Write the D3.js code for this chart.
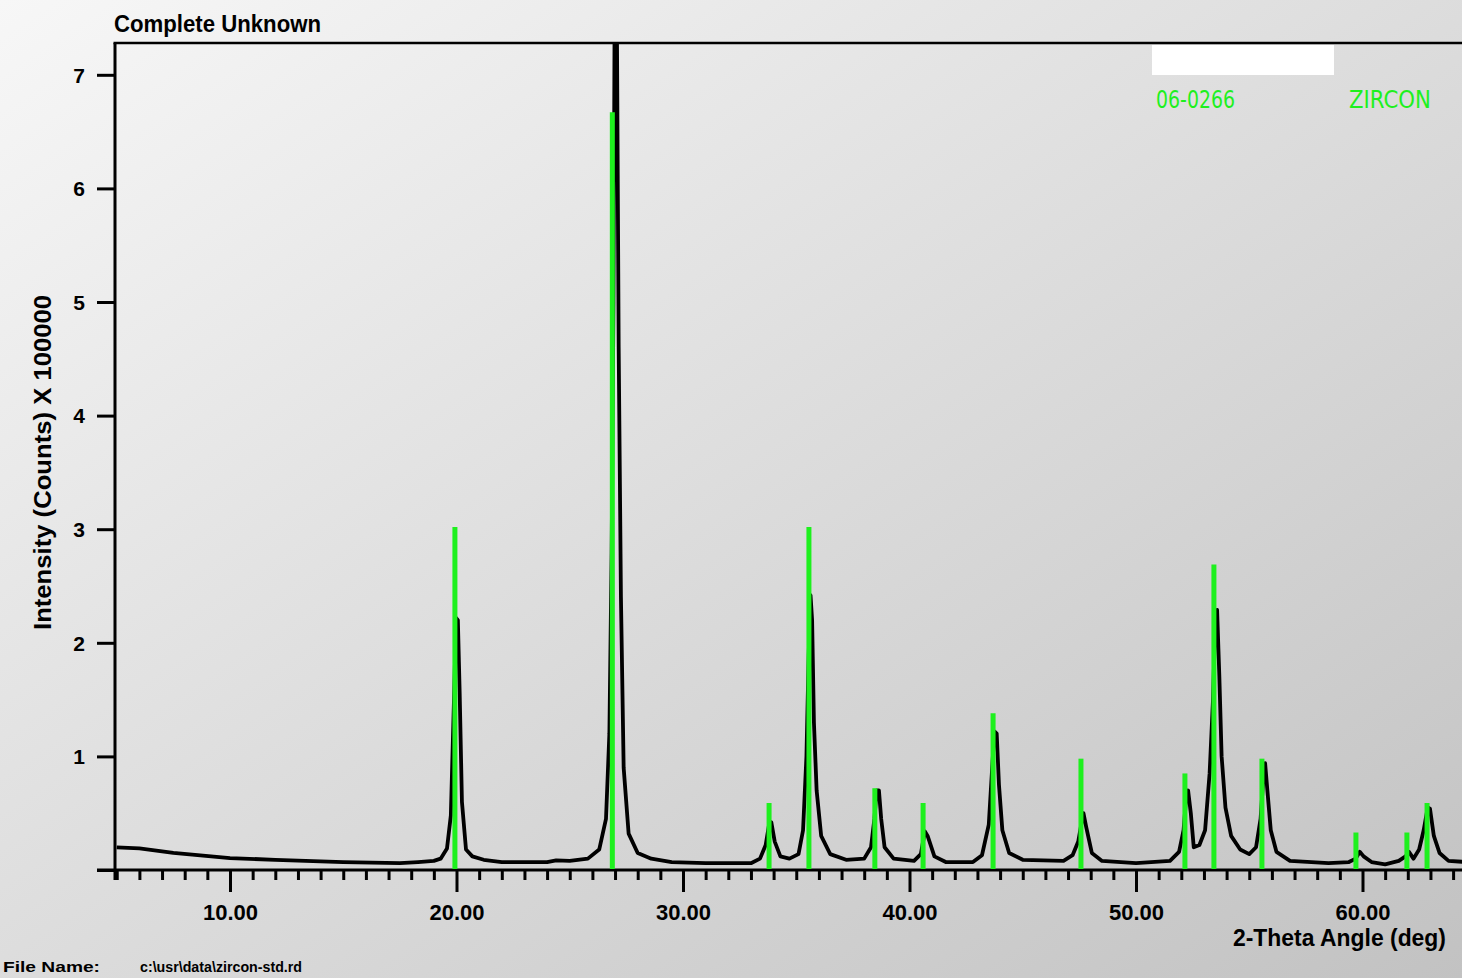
<!DOCTYPE html>
<html>
<head>
<meta charset="utf-8">
<script src="https://cdn.jsdelivr.net/npm/d3@7"></script>
<style>
    body { margin: 0; overflow: hidden; }
    .bold { font-family: "Liberation Sans", Arial, sans-serif; font-weight: bold; fill: #000; }
    .ref { font-family: "Liberation Sans Narrow", "DejaVu Sans Condensed", sans-serif; font-stretch: condensed; fill: #1ef01e; }
</style>
</head>
<body>
<script>
//anonymous function to wrap script
(function(){

    //pseudo-global variables
    var chartTitle = "Complete Unknown";
    var xTitle = "2-Theta Angle (deg)";
    var yTitle = "Intensity (Counts) X 100000";
    var fileLabel = "File Name:";
    var fileName = "c:\\usr\\data\\zircon-std.rd";
    var refCode = "06-0266", refName = "ZIRCON";

    var yTickValues = [0, 1, 2, 3, 4, 5, 6, 7];
    var xMajorTicks = [10, 20, 30, 40, 50, 60];
    var xTickLabels = ["10.00", "20.00", "30.00", "40.00", "50.00", "60.00"];

    //measured pattern (2-theta, counts / 100000)
    var profileAngle = [5.0, 6.0, 7.5, 10, 12, 15, 17.5, 18.3, 19.0, 19.3, 19.58, 19.75, 19.9, 19.98, 20.06, 20.14, 20.24, 20.42, 20.7, 21.2, 22,
        24, 24.4, 25, 25.8, 26.3, 26.6, 26.75, 26.85, 26.93, 26.98, 27.08, 27.16, 27.26, 27.38, 27.6, 28, 28.6, 29.5, 31, 33,
        33.4, 33.65, 33.8, 33.9, 34.05, 34.3, 34.7, 35.1, 35.3, 35.45, 35.55, 35.63, 35.7, 35.78, 35.9, 36.1, 36.5, 37.2, 38, 38.3,
        38.45, 38.55, 38.65, 38.75, 38.9, 39.3, 40.2, 40.5, 40.68, 40.8, 41.1, 41.6, 42.8, 43.2, 43.5, 43.65, 43.75, 43.85, 43.95, 44.1,
        44.4, 45, 46.8, 47.2, 47.45, 47.6, 47.68, 47.8, 48.05, 48.5, 50, 51.5, 51.9, 52.1, 52.22, 52.3, 52.42, 52.55, 52.8, 53.05,
        53.25, 53.4, 53.5, 53.58, 53.68, 53.78, 53.95, 54.2, 54.6, 55, 55.3, 55.5, 55.62, 55.7, 55.8, 55.95, 56.2, 56.8, 58.5, 59.4,
        59.7, 59.88, 60.05, 60.4, 61, 61.6, 61.9, 62.05, 62.25, 62.5, 62.7, 62.88, 62.98, 63.15, 63.4, 63.8, 64.6];
    var profileCounts = [0.20, 0.19, 0.15, 0.105, 0.09, 0.07, 0.06, 0.07, 0.08, 0.1, 0.19, 0.48, 1.58, 2.22, 2.2, 1.56, 0.6, 0.18, 0.12, 0.09, 0.07,
        0.07, 0.085, 0.08, 0.1, 0.18, 0.45, 1.2, 2.8, 5.0, 7.5, 7.5, 4.6, 2.4, 0.9, 0.32, 0.15, 0.1, 0.07, 0.06, 0.06,
        0.1, 0.22, 0.4, 0.42, 0.25, 0.12, 0.1, 0.14, 0.35, 1.0, 1.9, 2.42, 2.2, 1.3, 0.7, 0.3, 0.14, 0.09, 0.1, 0.2,
        0.45, 0.7, 0.7, 0.45, 0.2, 0.1, 0.08, 0.14, 0.34, 0.3, 0.12, 0.07, 0.07, 0.13, 0.4, 0.9, 1.22, 1.2, 0.75, 0.35,
        0.15, 0.09, 0.08, 0.13, 0.25, 0.42, 0.5, 0.38, 0.15, 0.08, 0.06, 0.08, 0.16, 0.35, 0.65, 0.7, 0.5, 0.2, 0.22, 0.35,
        0.85, 1.5, 2.2, 2.29, 1.7, 1.0, 0.55, 0.3, 0.18, 0.14, 0.2, 0.45, 0.8, 0.94, 0.7, 0.35, 0.16, 0.08, 0.06, 0.07,
        0.1, 0.16, 0.12, 0.07, 0.05, 0.08, 0.12, 0.16, 0.1, 0.18, 0.35, 0.55, 0.54, 0.3, 0.15, 0.08, 0.07];

    //reference card lines (2-theta, counts / 100000)
    var stickAngle = [19.93, 26.88, 33.80, 35.56, 38.47, 40.60, 43.69, 47.57, 52.16, 53.44, 55.56, 59.71, 61.96, 62.85];
    var stickCounts = [3.02, 6.67, 0.59, 3.02, 0.72, 0.59, 1.38, 0.98, 0.85, 2.69, 0.98, 0.33, 0.33, 0.59];

    //begin script when window loads
    window.onload = setChart();

    function setChart(){
        var width = 1462,
            height = 978;

        //plot frame
        var left = 115, top = 43, bottom = 870;

        var svg = d3.select("body")
            .append("svg")
            .attr("width", width)
            .attr("height", height);

        //grey backdrop, lighter top left
        var defs = svg.append("defs");
        var grad = defs.append("linearGradient")
            .attr("id", "bg")
            .attr("x1", 0).attr("y1", 0)
            .attr("x2", 1).attr("y2", 1);
        grad.append("stop").attr("offset", "0%").attr("stop-color", "#f7f7f7");
        grad.append("stop").attr("offset", "100%").attr("stop-color", "#c2c2c2");

        defs.append("clipPath")
            .attr("id", "plotClip")
            .append("rect")
            .attr("x", left)
            .attr("y", top)
            .attr("width", width - left)
            .attr("height", bottom - top + 4);

        svg.append("rect")
            .attr("width", width)
            .attr("height", height)
            .attr("fill", "url(#bg)");

        //scales - 10 deg steps are about 226 px
        var x = d3.scaleLinear()
            .domain([5, 65])
            .range([left + 1.75, left + 1.75 + 60 * 22.65]);

        var y = d3.scaleLinear()
            .domain([0, 7.28])
            .range([bottom, top]);

        //x axis with minor ticks every degree
        var xAxis = d3.axisBottom(x)
            .tickValues(d3.range(5, 65))
            .tickSize(10)
            .tickSizeOuter(0)
            .tickPadding(0)
            .tickFormat(function(d){
                var i = xMajorTicks.indexOf(d);
                return i < 0 ? "" : xTickLabels[i];
            });

        var gx = svg.append("g")
            .attr("transform", "translate(0," + bottom + ")")
            .call(xAxis);
        gx.select(".domain").remove();
        gx.append("line")
            .attr("x1", 97).attr("x2", width)
            .attr("stroke", "#000").attr("stroke-width", 3);
        gx.selectAll(".tick line")
            .attr("stroke", "#000")
            .attr("stroke-width", 3)
            .attr("y2", function(d){ return xMajorTicks.indexOf(d) < 0 ? 10 : 22; });
        gx.selectAll(".tick text")
            .attr("class", "bold")
            .attr("font-size", 22)
            .attr("y", 50)
            .attr("dy", 0);

        //y axis
        var yAxis = d3.axisLeft(y)
            .tickValues(yTickValues)
            .tickSize(18)
            .tickSizeOuter(0)
            .tickPadding(12)
            .tickFormat(function(d){ return d === 0 ? "" : d; });

        var gy = svg.append("g")
            .attr("transform", "translate(" + left + ",0)")
            .call(yAxis);
        gy.select(".domain").remove();
        gy.append("line")
            .attr("y1", top).attr("y2", bottom + 10)
            .attr("stroke", "#000").attr("stroke-width", 3);
        gy.selectAll(".tick line")
            .attr("stroke", "#000")
            .attr("stroke-width", 3);
        gy.selectAll(".tick text")
            .attr("class", "bold")
            .attr("font-size", 21)
            .attr("dy", "0.35em");

        //top frame line
        svg.append("line")
            .attr("x1", left - 1.5).attr("x2", width)
            .attr("y1", top).attr("y2", top)
            .attr("stroke", "#000").attr("stroke-width", 2.5);

        //measured pattern
        var profile = profileAngle.map(function(a, i){ return [a, profileCounts[i]]; });
        var line = d3.line()
            .x(function(d){ return x(d[0]); })
            .y(function(d){ return y(d[1]); });

        svg.append("path")
            .datum(profile)
            .attr("clip-path", "url(#plotClip)")
            .attr("d", line)
            .attr("fill", "none")
            .attr("stroke", "#000")
            .attr("stroke-width", 3.8)
            .attr("stroke-linejoin", "round");

        //reference sticks
        svg.selectAll(".stick")
            .data(stickAngle)
            .enter()
            .append("line")
            .attr("class", "stick")
            .attr("x1", function(d){ return x(d); })
            .attr("x2", function(d){ return x(d); })
            .attr("y1", y(0) - 1)
            .attr("y2", function(d, i){ return y(stickCounts[i]); })
            .attr("stroke", "#1ef01e")
            .attr("stroke-width", 5);

        //legend (name box blanked)
        svg.append("rect")
            .attr("x", 1152).attr("y", 45)
            .attr("width", 182).attr("height", 30)
            .attr("fill", "#fff");
        svg.append("text")
            .attr("class", "ref")
            .attr("x", 1156).attr("y", 108)
            .attr("font-size", 25)
            .attr("textLength", 79)
            .attr("lengthAdjust", "spacingAndGlyphs")
            .text(refCode);
        svg.append("text")
            .attr("class", "ref")
            .attr("x", 1349).attr("y", 108)
            .attr("font-size", 25)
            .attr("textLength", 82)
            .attr("lengthAdjust", "spacingAndGlyphs")
            .text(refName);

        //titles
        svg.append("text")
            .attr("class", "bold")
            .attr("x", 114).attr("y", 32)
            .attr("font-size", 24)
            .attr("textLength", 207)
            .attr("lengthAdjust", "spacingAndGlyphs")
            .text(chartTitle);

        svg.append("text")
            .attr("class", "bold")
            .attr("x", 1233).attr("y", 946)
            .attr("font-size", 23)
            .attr("textLength", 213)
            .attr("lengthAdjust", "spacingAndGlyphs")
            .text(xTitle);

        svg.append("text")
            .attr("class", "bold")
            .attr("transform", "translate(51,630) rotate(-90)")
            .attr("font-size", 24)
            .attr("textLength", 335)
            .attr("lengthAdjust", "spacingAndGlyphs")
            .text(yTitle);

        svg.append("text")
            .attr("class", "bold")
            .attr("x", 3).attr("y", 972)
            .attr("font-size", 15)
            .attr("textLength", 97)
            .attr("lengthAdjust", "spacingAndGlyphs")
            .text(fileLabel);
        svg.append("text")
            .attr("class", "bold")
            .attr("x", 140).attr("y", 972)
            .attr("font-size", 15)
            .attr("textLength", 162)
            .attr("lengthAdjust", "spacingAndGlyphs")
            .text(fileName);
    };

})();
</script>
</body>
</html>
